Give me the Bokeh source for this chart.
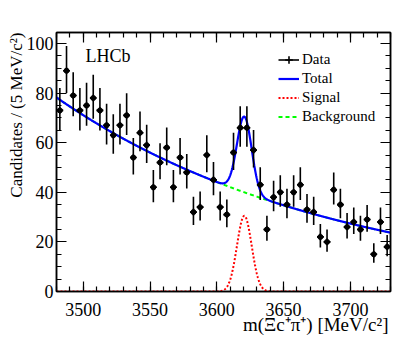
import numpy as np
from bokeh.plotting import figure
from bokeh.models import (ColumnDataSource, Range1d, LinearAxis, SingleIntervalTicker,
                          Label, Legend, LegendItem, Title)
from bokeh.embed import file_html
from bokeh.resources import INLINE

# ---------------- data ----------------
bin_width = 5.0
mass = np.arange(3482.5, 3730.0, bin_width)          # bin centres [MeV/c^2]
counts = np.array([73, 89, 79, 73, 75, 78, 73, 67, 63, 67,
                   71, 54, 64, 59, 42, 52, 58, 42, 54, 48,
                   32, 34, 55, 45, 34, 31, 56, 66, 66, 57,
                   43, 25, 38, 40, 35, 40, 43, 33, 32, 22,
                   20, 41, 35, 26, 28, 25, 29, 15, 28, 18], dtype=float)

# fit model parameters
bkg_start = 78.2        # background at 3480 MeV
bkg_slope = -0.00477    # exponential slope per MeV
sig_peak = 30.5         # signal peak height per 5 MeV
sig_mean = 3620.6
sig_sigma = 5.5

x_lo, x_hi = 3480.0, 3730.0
y_lo, y_hi = 0.0, 104.4

legend_labels = ["Data", "Total", "Signal", "Background"]
x_title = "m(Ξc⁺π⁺) [MeV/c²]"
y_title = "Candidates / (5 MeV/c²)"
experiment = "LHCb"

FONT = "Liberation Serif"

# ---------------- derived ----------------
root = np.sqrt(counts + 0.25)
err_up = counts + root + 0.5
err_dn = counts - root + 0.5
src = ColumnDataSource(dict(x=mass, y=counts, x0=mass - bin_width / 2, x1=mass + bin_width / 2,
                            yu=err_up, yd=err_dn))

m = np.linspace(x_lo, x_hi, 1001)
bkg = bkg_start * np.exp(bkg_slope * (m - x_lo))
sig = sig_peak * np.exp(-0.5 * ((m - sig_mean) / sig_sigma) ** 2)
tot = bkg + sig
curves = ColumnDataSource(dict(m=m, bkg=bkg, sig=sig, tot=tot))

# ---------------- figure ----------------
p = figure(width=409, height=344, output_backend="svg", toolbar_location=None,
           x_range=Range1d(x_lo, x_hi), y_range=Range1d(y_lo, y_hi),
           min_border_left=56, min_border_right=19, min_border_top=32, min_border_bottom=53)
p.background_fill_color = "white"
p.border_fill_color = "white"
p.outline_line_color = "black"
p.outline_line_width = 1.5
p.xgrid.visible = False
p.ygrid.visible = False

def style_axis(ax, show_labels):
    ax.axis_label = None
    ax.axis_line_color = "black"
    ax.axis_line_width = 1.5
    ax.major_tick_in = 10
    ax.major_tick_out = 0
    ax.minor_tick_in = 5
    ax.minor_tick_out = 0
    ax.major_tick_line_width = 1.2
    ax.minor_tick_line_width = 1.2
    ax.major_tick_line_color = "black"
    ax.minor_tick_line_color = "black"
    if show_labels:
        ax.major_label_text_font = FONT
        ax.major_label_text_font_size = "18px"
        ax.major_label_text_color = "black"
    else:
        ax.major_label_text_font_size = "0px"
        ax.major_label_standoff = 0

p.xaxis.ticker = SingleIntervalTicker(interval=50, num_minor_ticks=5)
p.yaxis.ticker = SingleIntervalTicker(interval=20, num_minor_ticks=4)
style_axis(p.xaxis[0], True)
style_axis(p.yaxis[0], True)
p.xaxis.major_label_standoff = 11
p.yaxis.major_label_standoff = 3

top_ax = LinearAxis(ticker=SingleIntervalTicker(interval=50, num_minor_ticks=5))
right_ax = LinearAxis(ticker=SingleIntervalTicker(interval=20, num_minor_ticks=4))
style_axis(top_ax, False)
style_axis(right_ax, False)
p.add_layout(top_ax, "above")
p.add_layout(right_ax, "right")

# axis titles (right / top aligned, as in the reference)
p.add_layout(Title(text=x_title, align="right", vertical_align="top", offset=2, standoff=-10,
                   text_font=FONT, text_font_size="19px", text_font_style="normal",
                   text_color="black"), "below")
p.add_layout(Title(text=y_title, align="right", vertical_align="top", offset=0, standoff=-9,
                   text_font=FONT, text_font_size="17px", text_font_style="normal",
                   text_color="black"), "left")

# ---------------- curves ----------------
r_bkg = p.line("m", "bkg", source=curves, line_color="#00ff00", line_width=2, line_dash="4 3")
r_sig = p.line("m", "sig", source=curves, line_color="#ff0000", line_width=2, line_dash="2 2")
r_tot = p.line("m", "tot", source=curves, line_color="#0000ff", line_width=2.2)

# ---------------- data points ----------------
r_vbar = p.segment(x0="x", y0="yd", x1="x", y1="yu", source=src, line_color="black", line_width=1.6)
r_hbar = p.segment(x0="x0", y0="y", x1="x1", y1="y", source=src, line_color="black", line_width=1.6)
r_cross = p.scatter("x", "y", source=src, marker="cross", size=6.6, line_color="black", line_width=1.6)
r_pts = p.scatter("x", "y", source=src, marker="circle", size=5, fill_color="black", line_color="black")

legend = Legend(items=[
    LegendItem(label=legend_labels[0], renderers=[r_hbar, r_cross]),
    LegendItem(label=legend_labels[1], renderers=[r_tot]),
    LegendItem(label=legend_labels[2], renderers=[r_sig]),
    LegendItem(label=legend_labels[3], renderers=[r_bkg]),
], location=(222, 165))
legend.label_text_font = FONT
legend.label_text_font_size = "15px"
legend.label_text_color = "black"
legend.glyph_width = 21
legend.glyph_height = 19
legend.label_height = 19
legend.label_standoff = 3
legend.spacing = 0
legend.padding = 0
legend.margin = 0
legend.border_line_alpha = 0
legend.background_fill_alpha = 0
p.add_layout(legend, "center")

# ---------------- experiment label ----------------
p.add_layout(Label(x=29, y=236, x_units="screen", y_units="screen", text=experiment,
                   text_font=FONT, text_font_size="18px", text_color="black",
                   text_align="left", text_baseline="alphabetic"))

open("out.html", "w").write(file_html(p, INLINE))
